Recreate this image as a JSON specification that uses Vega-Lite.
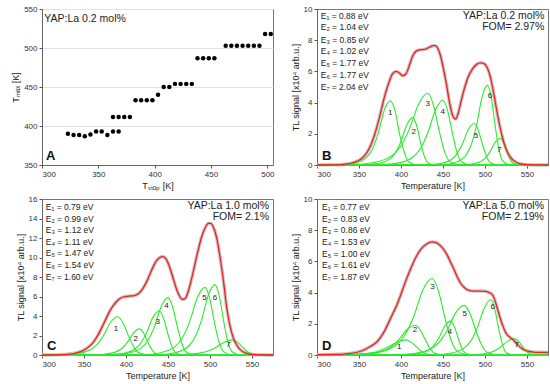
{
"$schema": "https://vega.github.io/schema/vega-lite/v6.json",
"padding": {"left": 11, "top": 4, "right": 3, "bottom": 2},
"columns": 2,
"spacing": {"row": 3, "column": 9},
"config": {
  "font": "Liberation Sans",
  "view": {"stroke": "#777", "strokeWidth": 1},
  "axis": {"labelFontSize": 8, "titleFontSize": 9, "titleFontWeight": "normal", "labelColor": "#333", "titleColor": "#222", "tickColor": "#555", "domainColor": "#666", "tickSize": 3, "labelPadding": 2, "titlePadding": 3, "grid": false, "labelFont": "Liberation Sans", "titleFont": "Liberation Sans"},
  "text": {"font": "Liberation Sans", "color": "#222", "baseline": "middle"}
},
"datasets": {
"A": [{"T":323,"I":390},{"T":328,"I":388.5},{"T":333,"I":388.5},{"T":338,"I":387},{"T":343,"I":389},{"T":348,"I":393},{"T":353,"I":393},{"T":358,"I":388.5},{"T":363,"I":411.5},{"T":363,"I":393},{"T":368,"I":411.5},{"T":368,"I":393},{"T":373,"I":411.5},{"T":378,"I":411.5},{"T":383,"I":433},{"T":388,"I":433},{"T":393,"I":433},{"T":398,"I":433},{"T":403,"I":440},{"T":408,"I":450},{"T":413,"I":450},{"T":418,"I":454},{"T":423,"I":454},{"T":428,"I":454},{"T":433,"I":454},{"T":438,"I":487},{"T":443,"I":487},{"T":448,"I":487},{"T":453,"I":487},{"T":463,"I":503},{"T":468,"I":503},{"T":473,"I":503},{"T":478,"I":503},{"T":483,"I":503},{"T":488,"I":503},{"T":493,"I":503},{"T":498,"I":518},{"T":503,"I":518}],
"B": [
{"s":"1","T":300,"I":0},{"s":"1","T":331,"I":0.025},{"s":"1","T":345,"I":0.12},{"s":"1","T":359,"I":0.49},{"s":"1","T":366,"I":1.03},{"s":"1","T":373,"I":2.06},{"s":"1","T":380,"I":3.49},{"s":"1","T":387,"I":4.11},{"s":"1","T":393,"I":3.45},{"s":"1","T":398,"I":2.06},{"s":"1","T":404,"I":0.82},{"s":"1","T":409,"I":0.21},{"s":"1","T":420,"I":0},{"s":"1","T":575,"I":0},
{"s":"2","T":300,"I":0},{"s":"2","T":358,"I":0.018},{"s":"2","T":372,"I":0.09},{"s":"2","T":386,"I":0.36},{"s":"2","T":393,"I":0.76},{"s":"2","T":400,"I":1.52},{"s":"2","T":407,"I":2.58},{"s":"2","T":414,"I":3.04},{"s":"2","T":418.5,"I":2.55},{"s":"2","T":423,"I":1.52},{"s":"2","T":427.5,"I":0.61},{"s":"2","T":432,"I":0.15},{"s":"2","T":441,"I":0},{"s":"2","T":575,"I":0},
{"s":"3","T":300,"I":0},{"s":"3","T":344,"I":0.028},{"s":"3","T":366,"I":0.14},{"s":"3","T":388,"I":0.55},{"s":"3","T":399,"I":1.15},{"s":"3","T":410,"I":2.3},{"s":"3","T":421,"I":3.91},{"s":"3","T":432,"I":4.6},{"s":"3","T":438.5,"I":3.86},{"s":"3","T":445,"I":2.3},{"s":"3","T":451.5,"I":0.92},{"s":"3","T":458,"I":0.23},{"s":"3","T":471,"I":0},{"s":"3","T":575,"I":0},
{"s":"4","T":300,"I":0},{"s":"4","T":378,"I":0.025},{"s":"4","T":396,"I":0.12},{"s":"4","T":414,"I":0.5},{"s":"4","T":423,"I":1.04},{"s":"4","T":432,"I":2.08},{"s":"4","T":441,"I":3.53},{"s":"4","T":450,"I":4.15},{"s":"4","T":455.5,"I":3.49},{"s":"4","T":461,"I":2.08},{"s":"4","T":466.5,"I":0.83},{"s":"4","T":472,"I":0.21},{"s":"4","T":483,"I":0},{"s":"4","T":575,"I":0},
{"s":"5","T":300,"I":0},{"s":"5","T":431,"I":0.016},{"s":"5","T":445,"I":0.08},{"s":"5","T":459,"I":0.32},{"s":"5","T":466,"I":0.67},{"s":"5","T":473,"I":1.33},{"s":"5","T":480,"I":2.26},{"s":"5","T":487,"I":2.66},{"s":"5","T":492,"I":2.23},{"s":"5","T":497,"I":1.33},{"s":"5","T":502,"I":0.53},{"s":"5","T":507,"I":0.13},{"s":"5","T":517,"I":0},{"s":"5","T":575,"I":0},
{"s":"6","T":300,"I":0},{"s":"6","T":451,"I":0.03},{"s":"6","T":464,"I":0.15},{"s":"6","T":477,"I":0.61},{"s":"6","T":483.5,"I":1.28},{"s":"6","T":490,"I":2.56},{"s":"6","T":496.5,"I":4.35},{"s":"6","T":503,"I":5.12},{"s":"6","T":507.5,"I":4.3},{"s":"6","T":512,"I":2.56},{"s":"6","T":516.5,"I":1.02},{"s":"6","T":521,"I":0.26},{"s":"6","T":530,"I":0},{"s":"6","T":575,"I":0},
{"s":"7","T":300,"I":0},{"s":"7","T":470,"I":0.01},{"s":"7","T":482,"I":0.05},{"s":"7","T":494,"I":0.21},{"s":"7","T":500,"I":0.43},{"s":"7","T":506,"I":0.86},{"s":"7","T":512,"I":1.45},{"s":"7","T":518,"I":1.71},{"s":"7","T":522,"I":1.44},{"s":"7","T":526,"I":0.86},{"s":"7","T":530,"I":0.34},{"s":"7","T":534,"I":0.09},{"s":"7","T":542,"I":0},{"s":"7","T":575,"I":0}
],
"Bf": [{"T":300,"I":0},{"T":320,"I":0.01},{"T":330,"I":0.03},{"T":340,"I":0.1},{"T":350,"I":0.3},{"T":355,"I":0.5},{"T":360,"I":0.85},{"T":365,"I":1.4},{"T":370,"I":2.2},{"T":375,"I":3.2},{"T":380,"I":4.3},{"T":385,"I":5.2},{"T":390,"I":5.85},{"T":394,"I":6.0},{"T":398,"I":5.9},{"T":402,"I":5.72},{"T":406,"I":5.85},{"T":410,"I":6.4},{"T":414,"I":7.0},{"T":418,"I":7.3},{"T":422,"I":7.38},{"T":426,"I":7.4},{"T":430,"I":7.45},{"T":434,"I":7.55},{"T":438,"I":7.65},{"T":441,"I":7.65},{"T":444,"I":7.45},{"T":447,"I":7.0},{"T":450,"I":6.3},{"T":454,"I":5.2},{"T":458,"I":3.95},{"T":462,"I":3.1},{"T":465,"I":2.95},{"T":468,"I":3.3},{"T":472,"I":4.2},{"T":476,"I":5.0},{"T":480,"I":5.65},{"T":485,"I":6.15},{"T":490,"I":6.45},{"T":495,"I":6.55},{"T":499,"I":6.5},{"T":503,"I":6.2},{"T":507,"I":5.5},{"T":511,"I":4.4},{"T":515,"I":3.2},{"T":519,"I":2.15},{"T":523,"I":1.35},{"T":527,"I":0.8},{"T":531,"I":0.45},{"T":535,"I":0.25},{"T":540,"I":0.1},{"T":550,"I":0.02},{"T":575,"I":0}],
"Bpk": [{"T":387.3,"I":3.36,"t":"1"},{"T":415.1,"I":2.14,"t":"2"},{"T":431.7,"I":3.9,"t":"3"},{"T":449.6,"I":3.4,"t":"4"},{"T":489.3,"I":1.88,"t":"5"},{"T":506,"I":4.43,"t":"6"},{"T":517,"I":0.94,"t":"7"}],
"BE": [{"T":304.5,"I":9.57,"t":"E₁ = 0.88 eV"},{"T":304.5,"I":8.82,"t":"E₂ = 1.04 eV"},{"T":304.5,"I":8.03,"t":"E₃ = 0.85 eV"},{"T":304.5,"I":7.28,"t":"E₄ = 1.02 eV"},{"T":304.5,"I":6.53,"t":"E₅ = 1.77 eV"},{"T":304.5,"I":5.78,"t":"E₆ = 1.77 eV"},{"T":304.5,"I":5.03,"t":"E₇ = 2.04 eV"}],
"BT": [{"T":570.6,"I":9.53,"t":"YAP:La 0.2 mol%"},{"T":570.6,"I":8.82,"t":"FOM= 2.97%"}],
"C": [
{"s":"1","T":300,"I":0},{"s":"1","T":322,"I":0.02},{"s":"1","T":339,"I":0.12},{"s":"1","T":356,"I":0.47},{"s":"1","T":364.5,"I":0.98},{"s":"1","T":373,"I":1.96},{"s":"1","T":381.5,"I":3.33},{"s":"1","T":390,"I":3.92},{"s":"1","T":396.5,"I":3.29},{"s":"1","T":403,"I":1.96},{"s":"1","T":409.5,"I":0.78},{"s":"1","T":416,"I":0.2},{"s":"1","T":429,"I":0},{"s":"1","T":575,"I":0},
{"s":"2","T":300,"I":0},{"s":"2","T":360,"I":0.016},{"s":"2","T":374,"I":0.08},{"s":"2","T":388,"I":0.32},{"s":"2","T":395,"I":0.67},{"s":"2","T":402,"I":1.34},{"s":"2","T":409,"I":2.28},{"s":"2","T":416,"I":2.68},{"s":"2","T":421,"I":2.25},{"s":"2","T":426,"I":1.34},{"s":"2","T":431,"I":0.54},{"s":"2","T":436,"I":0.13},{"s":"2","T":446,"I":0},{"s":"2","T":575,"I":0},
{"s":"3","T":300,"I":0},{"s":"3","T":379.5,"I":0.027},{"s":"3","T":394.5,"I":0.14},{"s":"3","T":409.5,"I":0.54},{"s":"3","T":417,"I":1.14},{"s":"3","T":424.5,"I":2.27},{"s":"3","T":432,"I":3.86},{"s":"3","T":439.5,"I":4.54},{"s":"3","T":444.5,"I":3.81},{"s":"3","T":449.5,"I":2.27},{"s":"3","T":454.5,"I":0.91},{"s":"3","T":459.5,"I":0.23},{"s":"3","T":469.5,"I":0},{"s":"3","T":575,"I":0},
{"s":"4","T":300,"I":0},{"s":"4","T":386,"I":0.035},{"s":"4","T":402,"I":0.18},{"s":"4","T":418,"I":0.71},{"s":"4","T":426,"I":1.47},{"s":"4","T":434,"I":2.94},{"s":"4","T":442,"I":5.0},{"s":"4","T":450,"I":5.88},{"s":"4","T":455.5,"I":4.94},{"s":"4","T":461,"I":2.94},{"s":"4","T":466.5,"I":1.18},{"s":"4","T":472,"I":0.29},{"s":"4","T":483,"I":0},{"s":"4","T":575,"I":0},
{"s":"5","T":300,"I":0},{"s":"5","T":422,"I":0.04},{"s":"5","T":440,"I":0.21},{"s":"5","T":458,"I":0.83},{"s":"5","T":467,"I":1.74},{"s":"5","T":476,"I":3.47},{"s":"5","T":485,"I":5.9},{"s":"5","T":494,"I":6.94},{"s":"5","T":499.5,"I":5.83},{"s":"5","T":505,"I":3.47},{"s":"5","T":510.5,"I":1.39},{"s":"5","T":516,"I":0.35},{"s":"5","T":527,"I":0},{"s":"5","T":575,"I":0},
{"s":"6","T":300,"I":0},{"s":"6","T":442,"I":0.04},{"s":"6","T":458,"I":0.22},{"s":"6","T":474,"I":0.87},{"s":"6","T":482,"I":1.8},{"s":"6","T":490,"I":3.61},{"s":"6","T":498,"I":6.14},{"s":"6","T":506,"I":7.22},{"s":"6","T":511,"I":6.06},{"s":"6","T":516,"I":3.61},{"s":"6","T":521,"I":1.44},{"s":"6","T":526,"I":0.36},{"s":"6","T":536,"I":0},{"s":"6","T":575,"I":0},
{"s":"7","T":300,"I":0},{"s":"7","T":447,"I":0.01},{"s":"7","T":467,"I":0.05},{"s":"7","T":487,"I":0.19},{"s":"7","T":497,"I":0.39},{"s":"7","T":507,"I":0.78},{"s":"7","T":517,"I":1.32},{"s":"7","T":527,"I":1.55},{"s":"7","T":533,"I":1.3},{"s":"7","T":539,"I":0.78},{"s":"7","T":545,"I":0.31},{"s":"7","T":551,"I":0.08},{"s":"7","T":563,"I":0},{"s":"7","T":575,"I":0}
],
"Cf": [{"T":300,"I":0},{"T":320,"I":0.02},{"T":330,"I":0.07},{"T":340,"I":0.2},{"T":350,"I":0.5},{"T":355,"I":0.8},{"T":360,"I":1.2},{"T":365,"I":1.8},{"T":370,"I":2.6},{"T":375,"I":3.5},{"T":380,"I":4.4},{"T":385,"I":5.1},{"T":390,"I":5.6},{"T":395,"I":5.9},{"T":400,"I":6.0},{"T":405,"I":6.05},{"T":410,"I":6.1},{"T":415,"I":6.3},{"T":420,"I":6.8},{"T":425,"I":7.6},{"T":430,"I":8.6},{"T":435,"I":9.5},{"T":440,"I":10.0},{"T":444,"I":10.1},{"T":448,"I":9.8},{"T":452,"I":9.0},{"T":456,"I":7.9},{"T":460,"I":6.8},{"T":464,"I":6.0},{"T":467,"I":5.7},{"T":470,"I":5.75},{"T":474,"I":6.5},{"T":478,"I":7.8},{"T":482,"I":9.3},{"T":486,"I":10.8},{"T":490,"I":12.1},{"T":494,"I":13.0},{"T":498,"I":13.5},{"T":501,"I":13.5},{"T":504,"I":13.1},{"T":508,"I":12.0},{"T":512,"I":10.0},{"T":516,"I":7.6},{"T":520,"I":4.8},{"T":524,"I":2.9},{"T":528,"I":1.7},{"T":532,"I":1.0},{"T":536,"I":0.55},{"T":540,"I":0.3},{"T":545,"I":0.15},{"T":550,"I":0.07},{"T":560,"I":0.02},{"T":575,"I":0}],
"Cpk": [{"T":388,"I":2.71,"t":"1"},{"T":411.7,"I":1.68,"t":"2"},{"T":437.9,"I":3.36,"t":"3"},{"T":448.2,"I":5.01,"t":"4"},{"T":493.3,"I":5.87,"t":"5"},{"T":506,"I":5.87,"t":"6"},{"T":521.9,"I":1.0,"t":"7"}],
"CE": [{"T":304.5,"I":15.14,"t":"E₁ = 0.79 eV"},{"T":304.5,"I":13.97,"t":"E₂ = 0.99 eV"},{"T":304.5,"I":12.81,"t":"E₃ = 1.12 eV"},{"T":304.5,"I":11.64,"t":"E₄ = 1.11 eV"},{"T":304.5,"I":10.44,"t":"E₅ = 1.47 eV"},{"T":304.5,"I":9.24,"t":"E₆ = 1.54 eV"},{"T":304.5,"I":8.03,"t":"E₇ = 1.60 eV"}],
"CT": [{"T":570.2,"I":15.31,"t":"YAP:La 1.0 mol%"},{"T":570.2,"I":14.18,"t":"FOM= 2.1%"}],
"D": [
{"s":"1","T":300,"I":0},{"s":"1","T":318,"I":0.006},{"s":"1","T":340,"I":0.03},{"s":"1","T":362,"I":0.12},{"s":"1","T":373,"I":0.24},{"s":"1","T":384,"I":0.49},{"s":"1","T":395,"I":0.82},{"s":"1","T":406,"I":0.97},{"s":"1","T":412.5,"I":0.81},{"s":"1","T":419,"I":0.49},{"s":"1","T":425.5,"I":0.19},{"s":"1","T":432,"I":0.05},{"s":"1","T":445,"I":0},{"s":"1","T":575,"I":0},
{"s":"2","T":300,"I":0},{"s":"2","T":337,"I":0.011},{"s":"2","T":357,"I":0.057},{"s":"2","T":377,"I":0.23},{"s":"2","T":387,"I":0.48},{"s":"2","T":397,"I":0.96},{"s":"2","T":407,"I":1.62},{"s":"2","T":417,"I":1.91},{"s":"2","T":423,"I":1.6},{"s":"2","T":429,"I":0.96},{"s":"2","T":435,"I":0.38},{"s":"2","T":441,"I":0.1},{"s":"2","T":453,"I":0},{"s":"2","T":575,"I":0},
{"s":"3","T":300,"I":0},{"s":"3","T":349,"I":0.03},{"s":"3","T":371,"I":0.15},{"s":"3","T":393,"I":0.59},{"s":"3","T":404,"I":1.23},{"s":"3","T":415,"I":2.45},{"s":"3","T":426,"I":4.17},{"s":"3","T":437,"I":4.9},{"s":"3","T":444.5,"I":4.12},{"s":"3","T":452,"I":2.45},{"s":"3","T":459.5,"I":0.98},{"s":"3","T":467,"I":0.25},{"s":"3","T":482,"I":0},{"s":"3","T":575,"I":0},
{"s":"4","T":300,"I":0},{"s":"4","T":403,"I":0.013},{"s":"4","T":417,"I":0.065},{"s":"4","T":431,"I":0.26},{"s":"4","T":438,"I":0.54},{"s":"4","T":445,"I":1.09},{"s":"4","T":452,"I":1.84},{"s":"4","T":459,"I":2.17},{"s":"4","T":463.5,"I":1.82},{"s":"4","T":468,"I":1.09},{"s":"4","T":472.5,"I":0.43},{"s":"4","T":477,"I":0.11},{"s":"4","T":486,"I":0},{"s":"4","T":575,"I":0},
{"s":"5","T":300,"I":0},{"s":"5","T":395,"I":0.02},{"s":"5","T":415,"I":0.095},{"s":"5","T":435,"I":0.38},{"s":"5","T":445,"I":0.8},{"s":"5","T":455,"I":1.59},{"s":"5","T":465,"I":2.7},{"s":"5","T":475,"I":3.18},{"s":"5","T":482,"I":2.67},{"s":"5","T":489,"I":1.59},{"s":"5","T":496,"I":0.64},{"s":"5","T":503,"I":0.16},{"s":"5","T":517,"I":0},{"s":"5","T":575,"I":0},
{"s":"6","T":300,"I":0},{"s":"6","T":443,"I":0.02},{"s":"6","T":459,"I":0.11},{"s":"6","T":475,"I":0.44},{"s":"6","T":483,"I":0.89},{"s":"6","T":491,"I":1.77},{"s":"6","T":499,"I":3.0},{"s":"6","T":507,"I":3.54},{"s":"6","T":511.5,"I":2.97},{"s":"6","T":516,"I":1.77},{"s":"6","T":520.5,"I":0.71},{"s":"6","T":525,"I":0.18},{"s":"6","T":534,"I":0},{"s":"6","T":575,"I":0},
{"s":"7","T":300,"I":0},{"s":"7","T":471,"I":0.006},{"s":"7","T":487,"I":0.03},{"s":"7","T":503,"I":0.13},{"s":"7","T":511,"I":0.26},{"s":"7","T":519,"I":0.53},{"s":"7","T":527,"I":0.89},{"s":"7","T":535,"I":1.05},{"s":"7","T":540,"I":0.88},{"s":"7","T":545,"I":0.53},{"s":"7","T":550,"I":0.21},{"s":"7","T":555,"I":0.05},{"s":"7","T":565,"I":0},{"s":"7","T":575,"I":0}
],
"Df": [{"T":300,"I":0.02},{"T":320,"I":0.04},{"T":332,"I":0.06},{"T":340,"I":0.1},{"T":352,"I":0.24},{"T":364,"I":0.56},{"T":372,"I":0.88},{"T":380,"I":1.5},{"T":388,"I":2.4},{"T":395,"I":3.2},{"T":400,"I":3.9},{"T":406,"I":4.8},{"T":412,"I":5.6},{"T":418,"I":6.3},{"T":424,"I":6.8},{"T":430,"I":7.1},{"T":437,"I":7.25},{"T":442,"I":7.2},{"T":447,"I":7.0},{"T":451,"I":6.75},{"T":455,"I":6.4},{"T":459,"I":5.95},{"T":463,"I":5.5},{"T":467,"I":5.0},{"T":471,"I":4.6},{"T":476,"I":4.3},{"T":481,"I":4.14},{"T":486,"I":4.1},{"T":491,"I":4.1},{"T":496,"I":4.1},{"T":501,"I":4.08},{"T":505,"I":4.0},{"T":509,"I":3.85},{"T":513,"I":3.3},{"T":517,"I":2.55},{"T":521,"I":1.9},{"T":525,"I":1.4},{"T":530,"I":1.12},{"T":535,"I":0.9},{"T":539,"I":0.65},{"T":543,"I":0.45},{"T":547,"I":0.32},{"T":552,"I":0.24},{"T":558,"I":0.19},{"T":565,"I":0.17},{"T":575,"I":0.16}],
"Dpk": [{"T":397.9,"I":0.52,"t":"1"},{"T":416.5,"I":1.59,"t":"2"},{"T":437.5,"I":4.36,"t":"3"},{"T":458.1,"I":1.5,"t":"4"},{"T":475.9,"I":2.64,"t":"5"},{"T":509.2,"I":3.05,"t":"6"},{"T":537.7,"I":0.62,"t":"7"}],
"DE": [{"T":306,"I":9.46,"t":"E₁ = 0.77 eV"},{"T":306,"I":8.71,"t":"E₂ = 0.83 eV"},{"T":306,"I":8.0,"t":"E₃ = 0.86 eV"},{"T":306,"I":7.25,"t":"E₄ = 1.53 eV"},{"T":306,"I":6.5,"t":"E₅ = 1.00 eV"},{"T":306,"I":5.77,"t":"E₆ = 1.61 eV"},{"T":306,"I":5.02,"t":"E₇ = 1.87 eV"}],
"DT": [{"T":570.2,"I":9.57,"t":"YAP:La 5.0 mol%"},{"T":570.2,"I":8.86,"t":"FOM= 2.19%"}]
},
"concat": [
{
 "width": 231, "height": 156,
 "encoding": {
  "x": {"field": "T", "type": "quantitative", "scale": {"domain": [300, 505], "nice": false, "zero": false}, "axis": {"values": [300, 350, 400, 450, 500], "title": "Tₛₜₒₚ [K]"}},
  "y": {"field": "I", "type": "quantitative", "scale": {"domain": [350, 550], "nice": false, "zero": false}, "axis": {"values": [350, 400, 450, 500, 550], "title": "Tₘₐₓ [K]", "grid": true, "gridColor": "#e2e2e2"}}
 },
 "layer": [
  {"data": {"name": "A"}, "mark": {"type": "point", "filled": true, "color": "#000", "size": 20, "opacity": 1}},
  {"data": {"values": [{"T": 302.1, "I": 537.2, "t": "YAP:La 0.2 mol%"}]}, "mark": {"type": "text", "fontSize": 10.5, "align": "left"}, "encoding": {"text": {"field": "t"}}},
  {"data": {"values": [{"T": 303.6, "I": 362, "t": "A"}]}, "mark": {"type": "text", "fontSize": 13, "fontWeight": "bold", "align": "left", "color": "#111"}, "encoding": {"text": {"field": "t"}}}
 ]
},
{
 "width": 231, "height": 156,
 "encoding": {
  "x": {"field": "T", "type": "quantitative", "scale": {"domain": [300, 575], "nice": false, "zero": false}, "axis": {"values": [300, 350, 400, 450, 500, 550], "title": "Temperature [K]"}},
  "y": {"field": "I", "type": "quantitative", "scale": {"domain": [0, 10], "nice": false, "zero": false}, "axis": {"values": [0, 2, 4, 6, 8, 10], "title": "TL signal [x10⁴ arb.u.]"}}
 },
 "layer": [
  {"data": {"name": "Bf"}, "mark": {"type": "line", "color": "#c8c8c8", "strokeWidth": 3.5, "interpolate": "monotone"}},
  {"data": {"name": "B"}, "mark": {"type": "line", "color": "#2aec2a", "strokeWidth": 1.1, "interpolate": "monotone"}, "encoding": {"detail": {"field": "s"}}},
  {"data": {"name": "Bf"}, "mark": {"type": "line", "color": "#ff1a1a", "strokeWidth": 1.3, "interpolate": "monotone"}},
  {"data": {"name": "Bpk"}, "mark": {"type": "text", "fontSize": 8}, "encoding": {"text": {"field": "t"}}},
  {"data": {"name": "BE"}, "mark": {"type": "text", "fontSize": 8.5, "align": "left"}, "encoding": {"text": {"field": "t"}}},
  {"data": {"name": "BT"}, "mark": {"type": "text", "fontSize": 10.5, "align": "right"}, "encoding": {"text": {"field": "t"}}},
  {"data": {"values": [{"T": 306, "I": 0.58, "t": "B"}]}, "mark": {"type": "text", "fontSize": 13, "fontWeight": "bold", "align": "left", "color": "#111"}, "encoding": {"text": {"field": "t"}}}
 ]
},
{
 "width": 231, "height": 156,
 "encoding": {
  "x": {"field": "T", "type": "quantitative", "scale": {"domain": [300, 575], "nice": false, "zero": false}, "axis": {"values": [300, 350, 400, 450, 500, 550], "title": "Temperature [K]"}},
  "y": {"field": "I", "type": "quantitative", "scale": {"domain": [0, 16], "nice": false, "zero": false}, "axis": {"values": [0, 2, 4, 6, 8, 10, 12, 14, 16], "title": "TL signal [x10⁴ arb.u.]"}}
 },
 "layer": [
  {"data": {"name": "Cf"}, "mark": {"type": "line", "color": "#c8c8c8", "strokeWidth": 3.5, "interpolate": "monotone"}},
  {"data": {"name": "C"}, "mark": {"type": "line", "color": "#2aec2a", "strokeWidth": 1.1, "interpolate": "monotone"}, "encoding": {"detail": {"field": "s"}}},
  {"data": {"name": "Cf"}, "mark": {"type": "line", "color": "#ff1a1a", "strokeWidth": 1.3, "interpolate": "monotone"}},
  {"data": {"name": "Cpk"}, "mark": {"type": "text", "fontSize": 8}, "encoding": {"text": {"field": "t"}}},
  {"data": {"name": "CE"}, "mark": {"type": "text", "fontSize": 8.5, "align": "left"}, "encoding": {"text": {"field": "t"}}},
  {"data": {"name": "CT"}, "mark": {"type": "text", "fontSize": 10.5, "align": "right"}, "encoding": {"text": {"field": "t"}}},
  {"data": {"values": [{"T": 306, "I": 0.89, "t": "C"}]}, "mark": {"type": "text", "fontSize": 13, "fontWeight": "bold", "align": "left", "color": "#111"}, "encoding": {"text": {"field": "t"}}}
 ]
},
{
 "width": 231, "height": 156,
 "encoding": {
  "x": {"field": "T", "type": "quantitative", "scale": {"domain": [300, 575], "nice": false, "zero": false}, "axis": {"values": [300, 350, 400, 450, 500, 550], "title": "Temperature [K]"}},
  "y": {"field": "I", "type": "quantitative", "scale": {"domain": [0, 10], "nice": false, "zero": false}, "axis": {"values": [0, 2, 4, 6, 8, 10], "title": "TL signal [x10⁴ arb.u.]"}}
 },
 "layer": [
  {"data": {"name": "Df"}, "mark": {"type": "line", "color": "#c8c8c8", "strokeWidth": 3.5, "interpolate": "monotone"}},
  {"data": {"name": "D"}, "mark": {"type": "line", "color": "#2aec2a", "strokeWidth": 1.1, "interpolate": "monotone"}, "encoding": {"detail": {"field": "s"}}},
  {"data": {"name": "Df"}, "mark": {"type": "line", "color": "#ff1a1a", "strokeWidth": 1.3, "interpolate": "monotone"}},
  {"data": {"name": "Dpk"}, "mark": {"type": "text", "fontSize": 8}, "encoding": {"text": {"field": "t"}}},
  {"data": {"name": "DE"}, "mark": {"type": "text", "fontSize": 8.5, "align": "left"}, "encoding": {"text": {"field": "t"}}},
  {"data": {"name": "DT"}, "mark": {"type": "text", "fontSize": 10.5, "align": "right"}, "encoding": {"text": {"field": "t"}}},
  {"data": {"values": [{"T": 306, "I": 0.56, "t": "D"}]}, "mark": {"type": "text", "fontSize": 13, "fontWeight": "bold", "align": "left", "color": "#111"}, "encoding": {"text": {"field": "t"}}}
 ]
}
]
}
